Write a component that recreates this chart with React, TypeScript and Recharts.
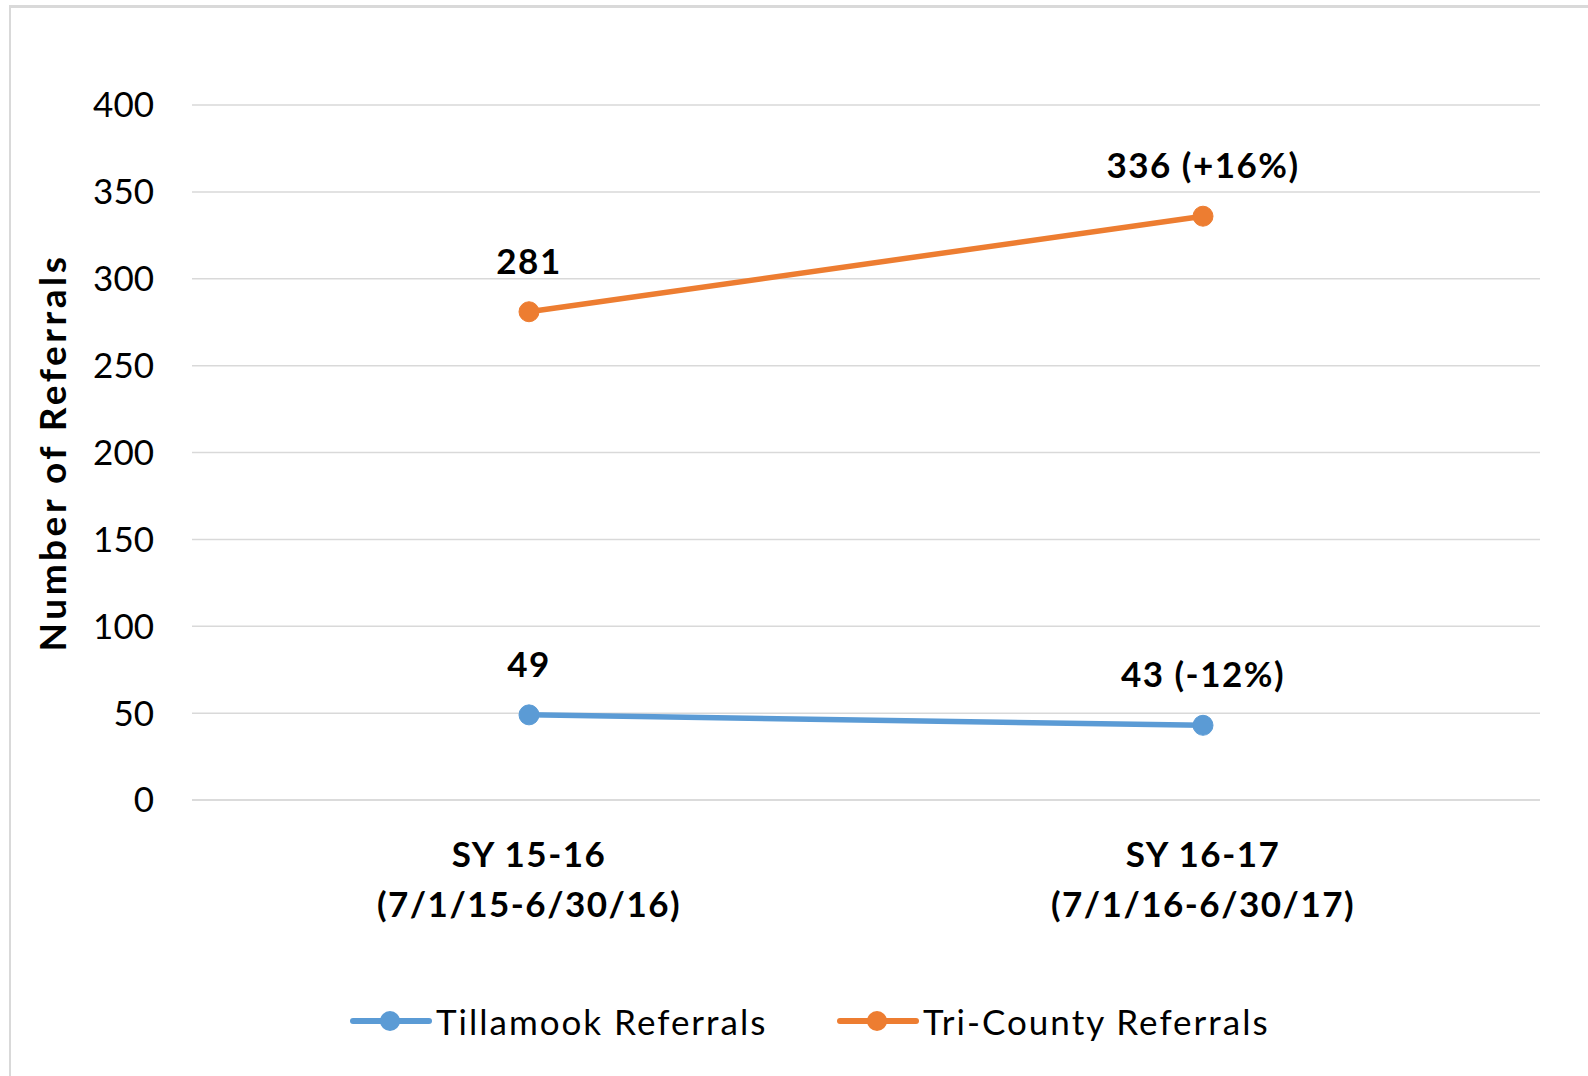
import { LineChart, Line, XAxis, YAxis, CartesianGrid, Legend, LabelList } from 'recharts';

const periods = ['SY 15-16', 'SY 16-17'];
const periodRanges = ['(7/1/15-6/30/16)', '(7/1/16-6/30/17)'];
const tillamook = [49, 43];
const triCounty = [281, 336];
const tillamookLabels = ['49', '43 (-12%)'];
const triCountyLabels = ['281', '336 (+16%)'];
const yTicks = [0, 50, 100, 150, 200, 250, 300, 350, 400];

const BLUE = '#5B9BD5';
const ORANGE = '#ED7D31';
const FONT = 'Lato, "Open Sans", sans-serif';

const data = periods.map((p, i) => ({
  period: p,
  range: periodRanges[i],
  tillamook: tillamook[i],
  triCounty: triCounty[i],
  tillamookLabel: tillamookLabels[i],
  triCountyLabel: triCountyLabels[i],
}));

const series = [
  { key: 'tillamook', name: 'Tillamook Referrals', color: BLUE },
  { key: 'triCounty', name: 'Tri-County Referrals', color: ORANGE },
];

function PeriodTick(props: any) {
  const { x, y, index } = props;
  return (
    <text x={x} textAnchor="middle" fontFamily={FONT} fontWeight={700} fontSize={35} letterSpacing={1.5} fill="#000">
      <tspan x={x} y={y + 53} dominantBaseline="central">{periods[index]}</tspan>
      <tspan x={x} y={y + 103} dominantBaseline="central">{periodRanges[index]}</tspan>
    </text>
  );
}

function PointLabel(props: any) {
  const { x, y, value } = props;
  return (
    <text x={x} y={y - 52} textAnchor="middle" dominantBaseline="central"
      fontFamily={FONT} fontWeight={700} fontSize={35} letterSpacing={1.5} fill="#000">
      {value}
    </text>
  );
}

function AxisTitle(props: any) {
  const { viewBox } = props;
  const cx = 51;
  const cy = viewBox.y + viewBox.height / 2;
  return (
    <text x={cx} y={cy} transform={`rotate(-90 ${cx} ${cy})`} textAnchor="middle" dominantBaseline="central"
      fontFamily={FONT} fontWeight={700} fontSize={37} letterSpacing={3.5} fill="#000">
      Number of Referrals
    </text>
  );
}

function LegendContent() {
  return (
    <div style={{ display: 'flex', alignItems: 'center', fontFamily: FONT, fontSize: 35, color: '#000' }}>
      {series.map((s, i) => (
        <div key={s.key} style={{ display: 'flex', alignItems: 'center', width: i === 0 ? 487 : 'auto' }}>
          <svg width={82} height={24} style={{ display: 'block' }}>
            <line x1={3} y1={12} x2={79} y2={12} stroke={s.color} strokeWidth={6} strokeLinecap="round" />
            <circle cx={40} cy={12} r={10} fill={s.color} />
          </svg>
          <span style={{ marginLeft: 4, lineHeight: '40px', letterSpacing: 2, whiteSpace: 'nowrap' }}>{s.name}</span>
        </div>
      ))}
    </div>
  );
}

export default function App() {
  return (
    <div style={{ position: 'absolute', left: 0, top: 0, width: 1588, height: 1076, background: '#fff' }}>
      <div style={{ position: 'absolute', left: 9, top: 5, right: 0, bottom: 0, borderTop: '3px solid #d9d9d9', borderLeft: '2px solid #d9d9d9' }} />
      <LineChart width={1588} height={1076} data={data} margin={{ top: 105, right: 48, left: 0, bottom: 146 }}>
        <CartesianGrid horizontal vertical={false} stroke="#d9d9d9" strokeWidth={1.5} />
        <XAxis dataKey="period" scale="band" height={130} tickSize={0} tickMargin={0} tickLine={false}
          axisLine={{ stroke: '#d9d9d9', strokeWidth: 1.5 }} tick={<PeriodTick />} interval={0} />
        <YAxis width={192} domain={[0, 400]} ticks={yTicks} tickSize={0} tickMargin={38}
          axisLine={false} tickLine={false}
          tick={{ fontFamily: FONT, fontSize: 35, fill: '#000' }}
          label={{ content: <AxisTitle /> }} />
        <Legend layout="horizontal" verticalAlign="middle" align="center"
          wrapperStyle={{ left: 350, top: 1001, width: 'auto' }} content={<LegendContent />} />
        <Line dataKey="tillamook" name="Tillamook Referrals" stroke={BLUE} strokeWidth={5.5}
          dot={{ r: 10, fill: BLUE, stroke: BLUE, strokeWidth: 1 }} activeDot={false} isAnimationActive={false}>
          <LabelList dataKey="tillamookLabel" content={<PointLabel />} />
        </Line>
        <Line dataKey="triCounty" name="Tri-County Referrals" stroke={ORANGE} strokeWidth={5.5}
          dot={{ r: 10, fill: ORANGE, stroke: ORANGE, strokeWidth: 1 }} activeDot={false} isAnimationActive={false}>
          <LabelList dataKey="triCountyLabel" content={<PointLabel />} />
        </Line>
      </LineChart>
    </div>
  );
}
